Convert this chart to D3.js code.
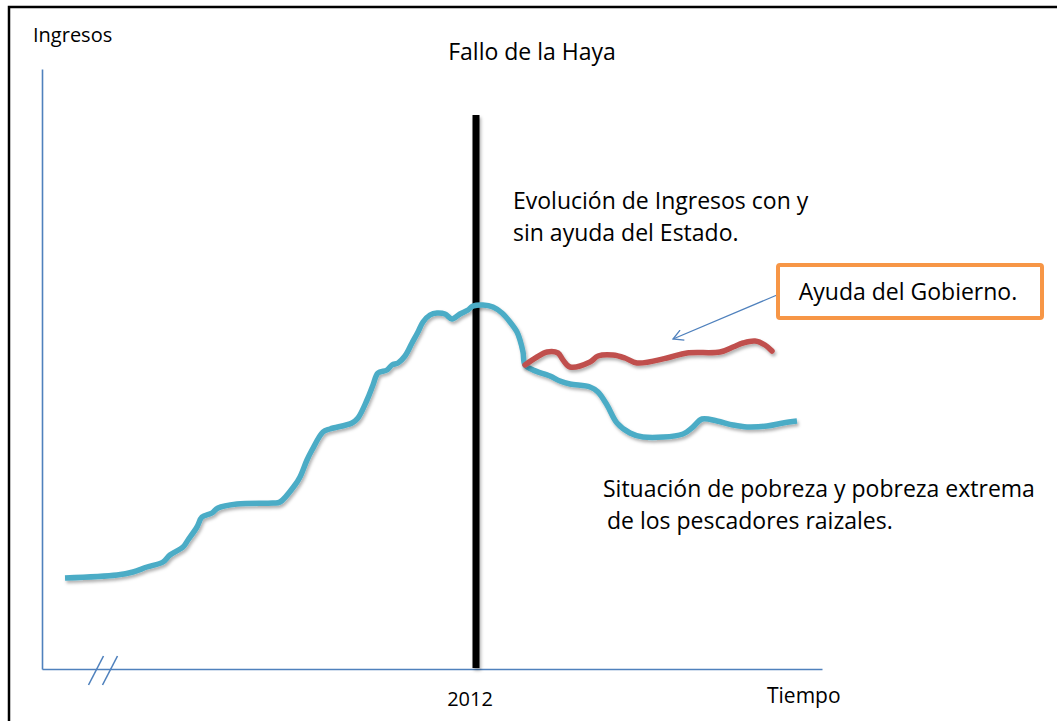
<!DOCTYPE html>
<html>
<head>
<meta charset="utf-8">
<script src="https://cdn.jsdelivr.net/npm/d3@7"></script>
<style>
  body { margin: 0; background: #fff; }
  text { font-family: "Open Sans", Lato, sans-serif; fill: #000; }
</style>
</head>
<body>
<div id="chart"></div>
<script>
// tiempo (unidades arbitrarias) e ingresos (unidades arbitrarias)
var sinAyudaT = [23, 75, 91, 105, 121, 128, 141, 146, 155, 160, 170, 176, 195, 231, 238, 253, 258, 265, 270, 281, 288, 310, 316, 325, 331, 336, 345, 350, 356, 363, 370, 376, 381, 388, 395, 403, 410, 418, 426, 431, 441, 451, 460, 468, 475, 478, 481, 483,
                 491, 508, 518, 528, 548, 556, 565, 575, 588, 601, 641, 651, 660, 675, 691, 705, 725, 741, 755];
var sinAyudaV = [91, 94, 97, 102, 107, 114, 122, 129, 142, 152, 156, 161, 165, 166, 167, 184, 192, 209, 219, 237, 240, 246, 251, 269, 284, 296, 299, 304, 306, 313, 326, 337, 347, 354, 356, 355, 350, 355, 359, 363, 364, 362, 356, 347, 337, 329, 317, 304,
                 299, 293, 288, 285, 282, 277, 264, 246, 236, 232, 235, 242, 250, 248, 244, 242, 243, 246, 248];

var conAyudaT = [483, 495, 505, 516, 521, 528, 548, 556, 571, 583, 595, 625, 645, 678, 691, 701, 713, 723, 730];
var conAyudaV = [304, 312, 317, 316, 309, 302, 307, 313, 314, 311, 306, 311, 316, 317, 322, 326, 328, 324, 318];

var corte = 434;          // 2012, fallo de la Haya
var corteLabel = "2012";
var cortes = [54, 68];    // marca de eje interrumpido "//"

var width = 1057, height = 721;
var margin = {left: 42, right: 235, top: 69, bottom: 52};

var svg = d3.select("#chart").append("svg")
    .attr("width", width)
    .attr("height", height);

var defs = svg.append("defs");
var f = defs.append("filter").attr("id", "sombra")
    .attr("filterUnits", "userSpaceOnUse")
    .attr("x", 0).attr("y", 0).attr("width", width).attr("height", height);
f.append("feDropShadow").attr("dx", 1.5).attr("dy", 2.5)
    .attr("stdDeviation", 1.5).attr("flood-color", "#000").attr("flood-opacity", 0.3);

defs.append("marker").attr("id", "flecha")
    .attr("viewBox", "0 0 12 12").attr("refX", 11).attr("refY", 6)
    .attr("markerWidth", 12).attr("markerHeight", 12)
    .attr("markerUnits", "userSpaceOnUse")
    .attr("orient", "auto")
    .append("path").attr("d", "M1,0.5 L11,6 L1,11.5")
    .attr("fill", "none").attr("stroke", "#4F81BD").attr("stroke-width", 1.3);

// marco
svg.append("path")
    .attr("d", "M9," + height + " V7 H" + width)
    .attr("fill", "none").attr("stroke", "#000").attr("stroke-width", 2.5);

var x = d3.scaleLinear().domain([0, 780]).range([margin.left, width - margin.right]);
var y = d3.scaleLinear().domain([0, 600]).range([height - margin.bottom, margin.top]);

// ejes (solo la linea)
svg.append("g").attr("transform", "translate(0," + y(0) + ")")
    .call(d3.axisBottom(x).ticks(0).tickSizeOuter(0));
svg.append("g").attr("transform", "translate(" + x(0) + ",0)")
    .call(d3.axisLeft(y).ticks(0).tickSizeOuter(0));
svg.selectAll(".domain").attr("stroke", "#4F81BD").attr("stroke-width", 1.6);

// eje interrumpido
svg.selectAll(".corte").data(cortes).enter().append("line")
    .attr("x1", d => x(d) - 7.5).attr("y1", y(0) + 16)
    .attr("x2", d => x(d) + 7.5).attr("y2", y(0) - 13)
    .attr("stroke", "#4F81BD").attr("stroke-width", 1.6);

// linea vertical 2012
svg.append("line")
    .attr("x1", x(corte)).attr("x2", x(corte))
    .attr("y1", 115).attr("y2", y(0) - 1)
    .attr("stroke", "#000").attr("stroke-width", 7)
    .attr("filter", "url(#sombra)");

var linea = d3.line()
    .x(d => x(d[0])).y(d => y(d[1]))
    .curve(d3.curveCatmullRom.alpha(0.5));

var sinAyuda = sinAyudaT.map((t, i) => [t, sinAyudaV[i]]);
var conAyuda = conAyudaT.map((t, i) => [t, conAyudaV[i]]);

svg.append("path").datum(sinAyuda)
    .attr("d", linea)
    .attr("fill", "none").attr("stroke", "#4BACC6").attr("stroke-width", 5.5)
    .attr("stroke-linejoin", "round")
    .attr("filter", "url(#sombra)");

svg.append("path").datum(conAyuda)
    .attr("d", linea)
    .attr("fill", "none").attr("stroke", "#C0504D").attr("stroke-width", 5.5)
    .attr("stroke-linejoin", "round").attr("stroke-linecap", "round")
    .attr("filter", "url(#sombra)");

// textos
svg.append("text").attr("x", 33).attr("y", 42).attr("font-size", 20).text("Ingresos");
svg.append("text").attr("x", 532).attr("y", 60).attr("font-size", 23)
    .attr("text-anchor", "middle").text("Fallo de la Haya");
svg.append("text").attr("x", x(corte) - 6).attr("y", 706).attr("font-size", 20)
    .attr("text-anchor", "middle").text(corteLabel);
svg.append("text").attr("x", 767).attr("y", 703).attr("font-size", 21).text("Tiempo");

var t1 = svg.append("text").attr("font-size", 23);
t1.append("tspan").attr("x", 513).attr("y", 209).text("Evolución de Ingresos con y");
t1.append("tspan").attr("x", 513).attr("y", 241).text("sin ayuda  del Estado.");

var t2 = svg.append("text").attr("font-size", 23);
t2.append("tspan").attr("x", 603).attr("y", 497).text("Situación de pobreza y pobreza extrema");
t2.append("tspan").attr("x", 607).attr("y", 529).text("de los pescadores raizales.");

// caja con flecha
svg.append("line")
    .attr("x1", 777).attr("y1", 295).attr("x2", 673).attr("y2", 339)
    .attr("stroke", "#4F81BD").attr("stroke-width", 1.3)
    .attr("marker-end", "url(#flecha)");
svg.append("rect")
    .attr("x", 778).attr("y", 265).attr("width", 264).attr("height", 53).attr("rx", 2)
    .attr("fill", "#fff").attr("stroke", "#F79646").attr("stroke-width", 4);
svg.append("text").attr("x", 908).attr("y", 300).attr("font-size", 23)
    .attr("text-anchor", "middle").text("Ayuda del Gobierno.");
</script>
</body>
</html>
